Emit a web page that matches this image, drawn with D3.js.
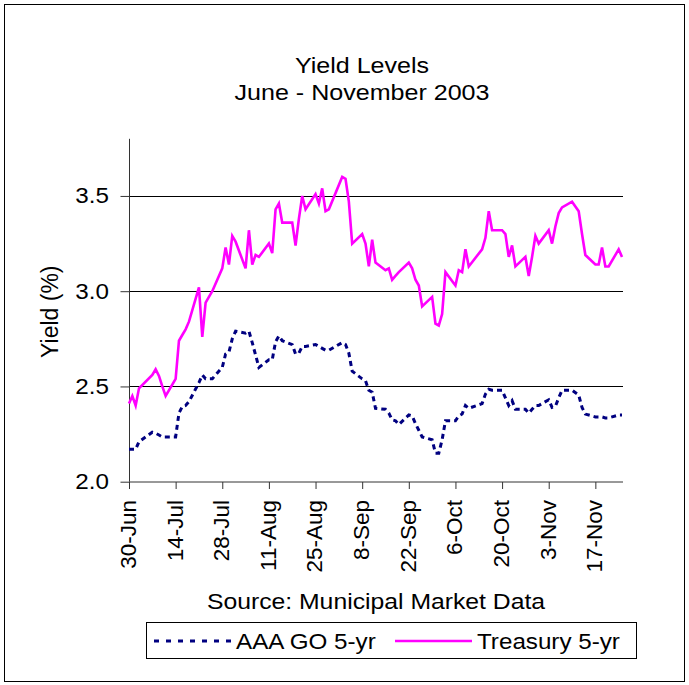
<!DOCTYPE html>
<html>
<head>
<meta charset="utf-8">
<script src="https://cdn.jsdelivr.net/npm/d3@7"></script>
<style>
  html, body { margin: 0; padding: 0; background: #fff; }
  text { font-family: "Liberation Sans", Arial, sans-serif; fill: #000; }
</style>
</head>
<body>
<svg id="chart" width="689" height="685"></svg>
<script>
// ---- data (business days, Jun 30 - Nov 25, 2003) ----
const dates = [
  "2003-06-30","2003-07-01","2003-07-02","2003-07-03",
  "2003-07-07","2003-07-08","2003-07-09","2003-07-10","2003-07-11",
  "2003-07-14","2003-07-15","2003-07-16","2003-07-17","2003-07-18",
  "2003-07-21","2003-07-22","2003-07-23","2003-07-24","2003-07-25",
  "2003-07-28","2003-07-29","2003-07-30","2003-07-31","2003-08-01",
  "2003-08-04","2003-08-05","2003-08-06","2003-08-07","2003-08-08",
  "2003-08-11","2003-08-12","2003-08-13","2003-08-14","2003-08-15",
  "2003-08-18","2003-08-19","2003-08-20","2003-08-21","2003-08-22",
  "2003-08-25","2003-08-26","2003-08-27","2003-08-28","2003-08-29",
  "2003-09-02","2003-09-03","2003-09-04","2003-09-05",
  "2003-09-08","2003-09-09","2003-09-10","2003-09-11","2003-09-12",
  "2003-09-15","2003-09-16","2003-09-17","2003-09-18","2003-09-19",
  "2003-09-22","2003-09-23","2003-09-24","2003-09-25","2003-09-26",
  "2003-09-29","2003-09-30","2003-10-01","2003-10-02","2003-10-03",
  "2003-10-06","2003-10-07","2003-10-08","2003-10-09","2003-10-10",
  "2003-10-14","2003-10-15","2003-10-16","2003-10-17",
  "2003-10-20","2003-10-21","2003-10-22","2003-10-23","2003-10-24",
  "2003-10-27","2003-10-28","2003-10-29","2003-10-30","2003-10-31",
  "2003-11-03","2003-11-04","2003-11-05","2003-11-06","2003-11-07",
  "2003-11-10","2003-11-12","2003-11-13","2003-11-14",
  "2003-11-17","2003-11-18","2003-11-19","2003-11-20","2003-11-21",
  "2003-11-24","2003-11-25"
];
const aaaGO5 = [
  2.17,2.17,2.17,2.21,
  2.26,2.255,2.245,2.235,2.235,
  2.235,2.36,2.395,2.40,2.42,
  2.52,2.56,2.54,2.54,2.54,
  2.60,2.67,2.68,2.75,2.79,
  2.78,2.79,2.73,2.665,2.60,
  2.64,2.64,2.735,2.765,2.74,
  2.72,2.67,2.675,2.71,2.71,
  2.72,2.71,2.70,2.69,2.69,
  2.73,2.72,2.675,2.58,
  2.54,2.53,2.48,2.47,2.385,
  2.38,2.36,2.325,2.32,2.30,
  2.35,2.345,2.305,2.27,2.235,
  2.22,2.15,2.15,2.22,2.32,
  2.32,2.345,2.355,2.40,2.385,
  2.41,2.46,2.485,2.48,
  2.48,2.44,2.40,2.425,2.38,
  2.38,2.36,2.38,2.40,2.40,
  2.43,2.39,2.395,2.44,2.48,
  2.48,2.455,2.39,2.355,
  2.34,2.34,2.34,2.335,2.335,
  2.35,2.35
];
const treasury5 = [
  2.41,2.45,2.40,2.49,
  2.56,2.59,2.555,2.50,2.45,
  2.54,2.74,2.77,2.80,2.84,
  3.02,2.76,2.94,2.97,3.00,
  3.12,3.23,3.14,3.29,3.26,
  3.12,3.32,3.14,3.19,3.18,
  3.25,3.20,3.43,3.46,3.36,
  3.36,3.24,3.38,3.50,3.43,
  3.51,3.46,3.54,3.42,3.43,
  3.60,3.59,3.47,3.25,
  3.30,3.25,3.13,3.27,3.15,
  3.11,3.12,3.06,3.08,3.10,
  3.15,3.12,3.06,3.03,2.92,
  2.97,2.83,2.82,2.88,3.10,
  3.03,3.11,3.10,3.22,3.13,
  3.22,3.28,3.42,3.32,
  3.32,3.30,3.18,3.24,3.13,
  3.18,3.08,3.18,3.29,3.25,
  3.32,3.25,3.34,3.41,3.44,
  3.47,3.42,3.30,3.19,
  3.14,3.14,3.23,3.13,3.13,
  3.22,3.18
];
const xTickDates = ["2003-06-30","2003-07-14","2003-07-28","2003-08-11","2003-08-25",
  "2003-09-08","2003-09-22","2003-10-06","2003-10-20","2003-11-03","2003-11-17"];
const yTicks = [2.0, 2.5, 3.0, 3.5];
const seriesNames = ["AAA GO 5-yr", "Treasury 5-yr"];
const titleLines = ["Yield Levels", "June - November 2003"];
const yLabel = "Yield (%)";
const sourceText = "Source: Municipal Market Data";

// ---- drawing ----
const parse = d3.timeParse("%Y-%m-%d");
const fmt = d3.timeFormat("%-d-%b");
const svg = d3.select("#chart");
const SX = 1.1; // horizontal stretch of the original's lettering

const x = d3.scaleTime()
  .domain([parse("2003-06-30"), parse("2003-11-25")])
  .range([129, 622]);
const y = d3.scaleLinear().domain([2.0, 3.8]).range([481.7, 138.8]);

// outer border
svg.append("rect").attr("x", 4.5).attr("y", 4.5).attr("width", 680).attr("height", 677)
  .attr("fill", "#fff").attr("stroke", "#000").attr("stroke-width", 1);

function hText(txt, tx, ty, size, anchor) {
  const g = svg.append("g").attr("transform", `translate(${tx},${ty}) scale(${SX},1)`);
  g.append("text").attr("text-anchor", anchor).style("font-size", size + "px").text(txt);
  return g;
}
// title
hText(titleLines[0], 362, 73, 22.8, "middle");
hText(titleLines[1], 362, 100, 22.8, "middle");

// gridlines
svg.append("g").selectAll("line").data(yTicks.filter(v => v > 2.0)).join("line")
  .attr("x1", 129).attr("x2", 623)
  .attr("y1", d => Math.round(y(d)) + 0.5).attr("y2", d => Math.round(y(d)) + 0.5)
  .attr("stroke", "#000").attr("stroke-width", 1);

// y axis
const yAxis = d3.axisLeft(y).tickValues(yTicks).tickSize(9).tickFormat(() => "");
const yg = svg.append("g").attr("transform", "translate(129.5,0)").call(yAxis);
yg.select(".domain").attr("d", `M0,${y(3.8)}V${y(2.0)}`).attr("stroke", "#333");
yg.selectAll(".tick line").attr("stroke", "#333");
yTicks.forEach(v => hText(d3.format(".1f")(v), 109, y(v) + 7.5, 22, "end"));

// x axis
const xAxis = d3.axisBottom(x).tickValues(xTickDates.map(parse)).tickSize(7).tickFormat(() => "");
const xg = svg.append("g").attr("transform", "translate(0,482)").call(xAxis);
xg.select(".domain").attr("d", "M129,0H623").attr("stroke", "#333");
xg.selectAll(".tick line").attr("stroke", "#333");
svg.append("g").selectAll("text").data(xTickDates.map(parse)).join("text")
  .attr("transform", d => `translate(${x(d) - 1},500) rotate(-90)`)
  .attr("text-anchor", "end").attr("dy", "0.35em")
  .style("font-size", "22.5px")
  .text(d => fmt(d));

// y label
svg.append("text").attr("transform", "translate(50,311.7) rotate(-90)")
  .attr("text-anchor", "middle").attr("dy", "0.35em")
  .style("font-size", "23px").text(yLabel);

// lines
const pts = (vals) => dates.map((d, i) => [parse(d), vals[i]]);
const line = d3.line().x(d => x(d[0])).y(d => y(d[1]));
svg.append("path").datum(pts(treasury5)).attr("d", line)
  .attr("fill", "none").attr("stroke", "#FF00FF").attr("stroke-width", 2.6)
  .attr("stroke-linejoin", "miter");
svg.append("path").datum(pts(aaaGO5)).attr("d", line)
  .attr("fill", "none").attr("stroke", "#000080").attr("stroke-width", 3)
  .attr("stroke-dasharray", "5,4");

// source
hText(sourceText, 376, 609, 22.5, "middle");

// legend
svg.append("rect").attr("x", 146.5).attr("y", 622.5).attr("width", 490).attr("height", 36)
  .attr("fill", "#fff").attr("stroke", "#000").attr("stroke-width", 1);
svg.append("line").attr("x1", 154).attr("x2", 231).attr("y1", 641).attr("y2", 641)
  .attr("stroke", "#000080").attr("stroke-width", 3).attr("stroke-dasharray", "5,7");
hText(seriesNames[0], 236, 649, 22, "start");
svg.append("line").attr("x1", 395).attr("x2", 472).attr("y1", 641).attr("y2", 641)
  .attr("stroke", "#FF00FF").attr("stroke-width", 2.5);
hText(seriesNames[1], 477, 649, 22, "start");
</script>
</body>
</html>
